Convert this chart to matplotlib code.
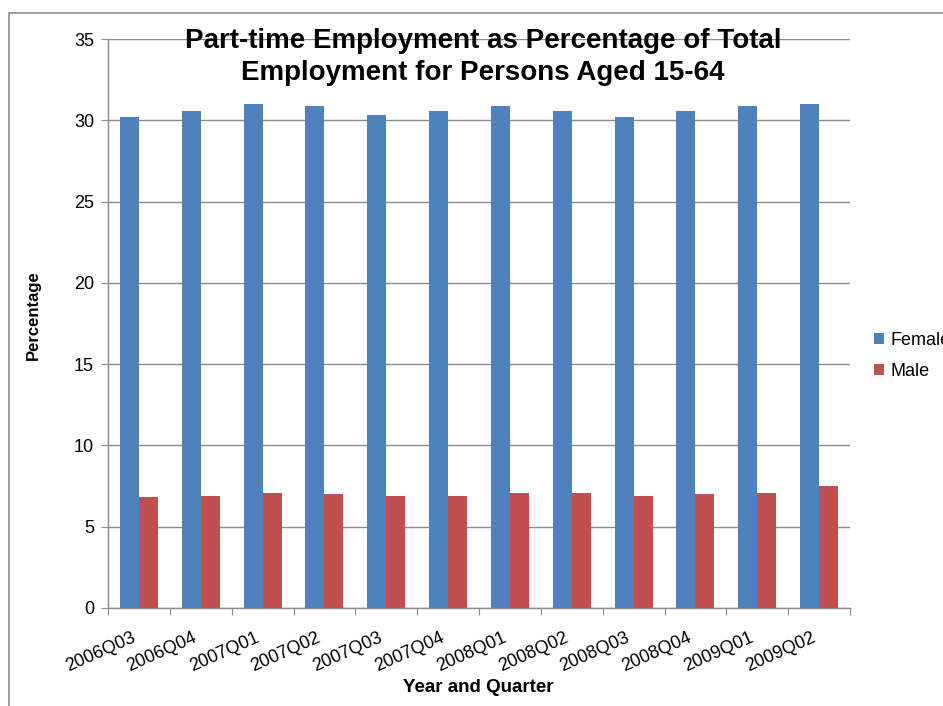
import matplotlib
matplotlib.use("Agg")
import matplotlib.pyplot as plt
import numpy as np
from matplotlib.patches import Rectangle

quarters = ["2006Q03", "2006Q04", "2007Q01", "2007Q02", "2007Q03", "2007Q04",
            "2008Q01", "2008Q02", "2008Q03", "2008Q04", "2009Q01", "2009Q02"]
female = [30.2, 30.6, 31.0, 30.9, 30.3, 30.6, 30.9, 30.6, 30.2, 30.6, 30.9, 31.0]
male = [6.8, 6.9, 7.1, 7.0, 6.9, 6.9, 7.1, 7.1, 6.9, 7.0, 7.1, 7.5]
yticks = [0, 5, 10, 15, 20, 25, 30, 35]

plt.rcParams['font.family'] = ['Liberation Sans', 'DejaVu Sans']

fig = plt.figure(figsize=(9.43, 7.06), dpi=100)
ax = fig.add_axes([108/943, 98/706, 742/943, 569/706])

x = np.arange(len(quarters))
w = 0.307
ax.bar(x - w/2, female, width=w, color='#4F81BD', label='Female', zorder=3)
ax.bar(x + w/2, male, width=w, color='#C0504D', label='Male', zorder=3)

ax.set_xlim(-0.5, len(quarters) - 0.5)
ax.set_ylim(0, 35)
ax.set_yticks(yticks)
ax.yaxis.grid(True, color='#8c8c8c', linewidth=1.0, zorder=0)
ax.set_axisbelow(True)

for s in ['top', 'right']:
    ax.spines[s].set_visible(False)
for s in ['left', 'bottom']:
    ax.spines[s].set_color('#8c8c8c')
    ax.spines[s].set_linewidth(1.0)

ax.set_xticks(np.arange(-0.5, len(quarters), 1.0), minor=False)
ax.set_xticklabels([])
ax.set_xticks(x - 0.13, minor=True)
ax.set_xticklabels(quarters, minor=True, rotation=24, ha='right', va='top',
                   rotation_mode='anchor', fontsize=13)
ax.tick_params(axis='x', which='major', length=5, color='#8c8c8c', direction='out')
ax.tick_params(axis='x', which='minor', length=0, pad=15)
ax.tick_params(axis='y', length=5, color='#8c8c8c', labelsize=13, pad=5)

fig.text(33/943, 1 - 315/706, 'Percentage', rotation=90, ha='center', va='center',
         fontsize=12, fontweight='bold')
fig.text(478/943, 1 - 687/706, 'Year and Quarter', ha='center', va='center',
         fontsize=13.5, fontweight='bold')

fig.text(483/943, 1 - 57/706,
         'Part-time Employment as Percentage of Total\nEmployment for Persons Aged 15-64',
         ha='center', va='center', fontsize=20, fontweight='bold', linespacing=1.3)

handles, labels = ax.get_legend_handles_labels()
fig.legend(handles, labels, loc='center left', bbox_to_anchor=(874/943, 1 - 356/706),
           frameon=False, fontsize=13, handlelength=0.55, handleheight=0.55,
           handletextpad=0.35, labelspacing=0.8, borderpad=0, borderaxespad=0)

fig.patches.append(Rectangle((9/943, -0.1), 1.2, 1 - 13/706 + 0.1,
                             transform=fig.transFigure, fill=False,
                             edgecolor='#8c8c8c', linewidth=1.2))

fig.savefig('out.png', dpi=100)
